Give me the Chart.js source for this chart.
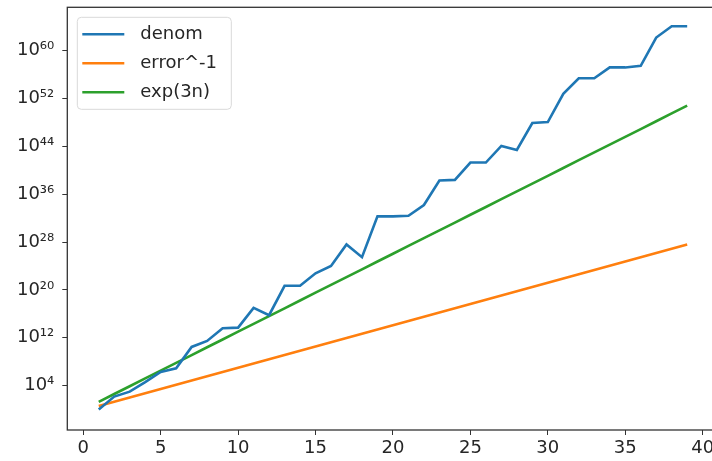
<!DOCTYPE html>
<html>
<head>
<meta charset="utf-8">
<script src="https://cdn.jsdelivr.net/npm/chart.js@4.4.1/dist/chart.umd.min.js"></script>
<style>
  html, body { margin: 0; padding: 0; background: #fff; overflow: hidden; }
  #wrap { width: 712px; height: 461px; overflow: hidden; }
  canvas { display: block; }
</style>
</head>
<body>
<div id="wrap"><canvas id="c" width="720" height="461"></canvas></div>
<script>
// iteration index n
const steps = [1,2,3,4,5,6,7,8,9,10,11,12,13,14,15,16,17,18,19,20,
               21,22,23,24,25,26,27,28,29,30,31,32,33,34,35,36,37,38,39];

// denominators of the approximations
const denom = [1e0, 1.5e2, 1e3, 4e4, 2e6, 8e6, 3e10, 3e11, 4e13, 5e13,
               1e17, 6e15, 5e20, 5e20, 6e22, 1e24, 4e27, 3e25, 2e32, 2e32,
               2.5e32, 1.6e34, 2e38, 2.5e38, 2e41, 2e41, 1.2e44, 2.5e43, 8e47, 1.2e48,
               6e52, 2.5e55, 2.5e55, 1.6e57, 1.6e57, 3e57, 1.6e62, 1.2e64, 1.2e64];

// inverse of the approximation error
const errorInv = [4.07e0, 2.09e1, 1.08e2, 5.52e2, 2.84e3, 1.46e4, 7.47e4, 3.84e5, 1.97e6, 1.01e7,
                  5.19e7, 2.67e8, 1.37e9, 7.03e9, 3.61e10, 1.85e11, 9.52e11, 4.89e12, 2.51e13, 1.29e14,
                  6.62e14, 3.40e15, 1.74e16, 8.95e16, 4.60e17, 2.36e18, 1.21e19, 6.22e19, 3.20e20, 1.64e21,
                  8.42e21, 4.33e22, 2.22e23, 1.14e24, 5.85e24, 3.01e25, 1.54e26, 7.93e26, 4.07e27];

// exp(3n)
const exp3n = [2.01e1, 4.03e2, 8.10e3, 1.628e5, 3.269e6, 6.566e7, 1.319e9, 2.649e10, 5.32e11, 1.069e13,
               2.146e14, 4.311e15, 8.659e16, 1.739e18, 3.493e19, 7.017e20, 1.409e22, 2.831e23, 5.686e24, 1.142e26,
               2.294e27, 4.608e28, 9.256e29, 1.859e31, 3.734e32, 7.500e33, 1.506e35, 3.026e36, 6.078e37, 1.221e39,
               2.452e40, 4.925e41, 9.889e42, 1.987e44, 3.991e45, 8.017e46, 1.610e48, 3.234e49, 6.497e50];

const seriesNames = ['denom', 'error^-1', 'exp(3n)'];
const xTicks = [0, 5, 10, 15, 20, 25, 30, 35, 40];
const yTicks = [1e4, 1e12, 1e20, 1e28, 1e36, 1e44, 1e52, 1e60];

const FONT = '"DejaVu Sans", sans-serif';
const SUP = {'0':'⁰','1':'¹','2':'²','3':'³','4':'⁴','5':'⁵','6':'⁶','7':'⁷','8':'⁸','9':'⁹','-':'⁻'};
const toSup = s => String(s).split('').map(ch => SUP[ch] || ch).join('');

const pts = vals => steps.map((n, i) => ({ x: n, y: vals[i] }));

// frame around the plot area (spines)
const framePlugin = {
  id: 'frame',
  afterDraw(chart) {
    const { ctx, chartArea: a } = chart;
    ctx.save();
    ctx.strokeStyle = '#333';
    ctx.lineWidth = 1.3;
    ctx.strokeRect(a.left, a.top, a.right - a.left, a.bottom - a.top);
    ctx.restore();
  }
};

// legend box in the upper-left corner of the plot area
const boxLegend = {
  id: 'boxLegend',
  afterDraw(chart) {
    const { ctx, chartArea: a } = chart;
    const x0 = a.left + 10, y0 = a.top + 10, w = 154, h = 92;
    ctx.save();
    ctx.beginPath();
    ctx.roundRect(x0, y0, w, h, 4);
    ctx.fillStyle = 'rgba(255,255,255,0.8)';
    ctx.fill();
    ctx.strokeStyle = '#d9d9d9';
    ctx.lineWidth = 1;
    ctx.stroke();
    ctx.font = '18px ' + FONT;
    ctx.textBaseline = 'middle';
    chart.data.datasets.forEach((ds, i) => {
      const yy = y0 + 17 + i * 29;
      ctx.strokeStyle = ds.borderColor;
      ctx.lineWidth = 2.6;
      ctx.beginPath();
      ctx.moveTo(x0 + 5, yy);
      ctx.lineTo(x0 + 47, yy);
      ctx.stroke();
      ctx.fillStyle = '#262626';
      ctx.fillText(ds.label, x0 + 63, yy);
    });
    ctx.restore();
  }
};

const colors = ['#1f77b4', '#ff7f0e', '#2ca02c'];
const seriesVals = [denom, errorInv, exp3n];

new Chart(document.getElementById('c'), {
  type: 'line',
  data: {
    datasets: seriesVals.map((vals, i) => ({
      label: seriesNames[i],
      data: pts(vals),
      borderColor: colors[i],
      backgroundColor: colors[i],
      borderWidth: 2.6,
      pointRadius: 0,
      tension: 0,
      fill: false
    }))
  },
  options: {
    responsive: false,
    animation: false,
    layout: { padding: { top: 7.3, right: 3.4, left: 0.3, bottom: 0 } },
    plugins: { legend: { display: false }, tooltip: { enabled: false } },
    scales: {
      x: {
        type: 'linear',
        min: -1.03,
        max: 40.9,
        afterBuildTicks: ax => { ax.ticks = xTicks.map(v => ({ value: v })); },
        afterFit: ax => { ax.height = 31; ax.paddingLeft = 0; ax.paddingRight = 0; },
        grid: { display: true, drawOnChartArea: false, drawTicks: true, tickLength: 5, color: '#333', lineWidth: 1 },
        border: { display: false },
        ticks: { color: '#262626', font: { family: FONT, size: 18 }, padding: 3, maxRotation: 0, autoSkip: false }
      },
      y: {
        type: 'logarithmic',
        min: 3.9e-4,
        max: 1.8e67,
        afterBuildTicks: ax => { ax.ticks = yTicks.map(v => ({ value: v })); },
        afterFit: ax => { ax.width = 67; ax.paddingTop = 0; ax.paddingBottom = 0; },
        grid: { display: true, drawOnChartArea: false, drawTicks: true, tickLength: 5, color: '#333', lineWidth: 1 },
        border: { display: false },
        ticks: {
          color: '#262626',
          font: { family: FONT, size: 18 },
          padding: 8,
          autoSkip: false,
          callback: v => '10' + toSup(Math.round(Math.log10(v)))
        }
      }
    }
  },
  plugins: [framePlugin, boxLegend]
});
</script>
</body>
</html>
